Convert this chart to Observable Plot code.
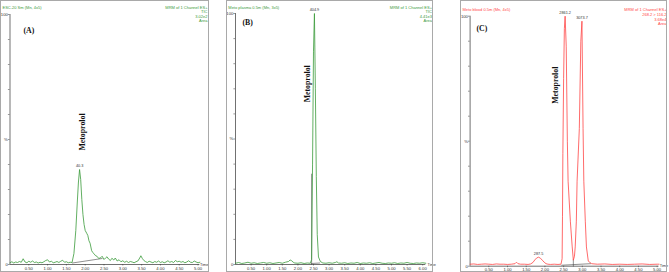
<!DOCTYPE html>
<html><head><meta charset="utf-8">
<script src="https://cdn.jsdelivr.net/npm/d3@7"></script>
<script src="https://cdn.jsdelivr.net/npm/@observablehq/plot@0.6"></script>
<style>
body{margin:0;background:#fff;}
#wrap{position:relative;width:669px;height:272px;overflow:hidden;background:#fff;}
.panel{position:absolute;top:0;height:272px;}
.border{position:absolute;top:0;height:272px;border:1px solid #a9a9a9;box-sizing:border-box;pointer-events:none;}
</style></head><body><div id="wrap"></div>
<script>
// ---------- DATA ----------
// Panel A: blank (ESC-20)
const aTime = [
 0.00,0.05,0.10,0.15,0.20,0.25,0.30,0.35,0.40,0.45,
 0.50,0.55,0.60,0.65,0.70,0.75,0.80,0.85,0.90,0.95,
 1.00,1.05,1.10,1.15,1.20,1.25,1.30,1.35,1.40,1.45,
 1.50,1.55,1.60,1.65,1.70,1.75,1.79,1.82,1.85,1.88,
 1.91,1.94,1.97,2.00,2.04,2.07,2.10,2.13,2.17,2.20,
 2.23,2.27,2.32,2.36,2.41,2.45,2.50,2.54,2.58,2.62,
 2.67,2.71,2.76,2.80,2.85,2.90,2.95,3.00,3.05,3.10,
 3.15,3.20,3.25,3.30,3.35,3.40,3.45,3.48,3.52,3.56,
 3.60,3.65,3.70,3.75,3.80,3.85,3.90,3.95,4.00,4.05,
 4.10,4.15,4.20,4.25,4.30,4.35,4.40,4.45,4.50,4.55,
 4.60,4.65,4.70,4.75,4.80,4.85,4.90,4.95,5.00,5.05];
const aInt = [
 0.7,1.1,0.6,1.0,0.8,1.2,0.9,2.3,1.0,0.7,
 1.3,0.9,1.4,0.8,1.0,0.6,0.9,0.7,1.1,1.6,
 1.9,1.0,1.3,0.7,0.9,1.2,0.8,1.3,1.7,0.9,
 1.1,0.7,0.9,0.8,4.4,13.6,25,33,38,34,
 26,20,16,13.6,12.5,11.6,9.5,8.5,5.6,4.8,
 4.4,3.6,3.2,2.4,2.7,3.3,2.0,2.6,3.1,2.2,
 1.6,2.5,1.8,2.6,1.4,1.9,1.1,1.5,0.9,1.3,
 0.8,1.2,1.0,0.7,1.1,1.4,2.6,3.5,2.4,1.6,
 1.2,0.8,1.3,1.0,0.7,1.2,0.9,1.4,0.8,1.1,
 0.7,1.0,1.5,0.9,1.2,0.8,1.6,1.1,1.3,0.9,
 1.2,0.7,1.0,1.5,0.9,0.8,1.4,1.0,0.7,0.9];
const aBaseTime = [1.66, 2.45];
const aBaseInt = [0.6, 2.4];
const aPeakTime = [1.85];
const aPeakInt = [38];
const aPeakLabel = ["40.3"];

// Panel B: plasma
const bTime = [
 0.00,0.10,0.20,0.30,0.40,0.50,0.60,0.70,0.80,0.90,
 1.00,1.10,1.20,1.30,1.40,1.50,1.60,1.70,1.75,1.80,
 1.85,1.90,2.00,2.10,2.20,2.30,2.40,2.44,2.47,2.50,
 2.53,2.56,2.59,2.62,2.66,2.72,2.80,2.90,3.00,3.10,
 3.20,3.25,3.30,3.40,3.50,3.60,3.70,3.80,3.90,4.00,
 4.10,4.20,4.30,4.40,4.50,4.60,4.70,4.80,4.90,5.00,
 5.10,5.20,5.30,5.40,5.50,5.60,5.70,5.80,5.90,6.00,
 6.10];
const bInt = [
 0.5,0.8,0.4,0.6,0.9,0.5,0.7,0.4,0.6,0.8,
 0.5,0.7,0.4,0.6,0.8,0.5,0.9,1.2,1.8,1.5,
 0.9,0.6,0.5,0.7,0.4,0.6,0.5,2,40,85,
 100,70,35,12,3,1.2,0.6,0.5,0.7,0.5,
 0.8,1.1,0.6,0.5,0.7,0.4,0.6,0.5,0.8,0.4,
 0.6,0.5,0.7,0.4,0.6,0.8,0.5,0.4,0.6,0.5,
 0.7,0.4,0.6,0.5,0.8,0.5,0.4,0.6,0.5,0.7,
 0.5];
const bDropTime = [2.44, 2.44];
const bDropInt = [0, 36];
const bBaseTime = [2.44, 2.70];
const bBaseInt = [0.4, 0.6];
const bPeakTime = [2.53];
const bPeakInt = [100];
const bPeakLabel = ["404.9"];

// Panel C: blood
const cTime = [
 0.00,0.10,0.20,0.30,0.40,0.50,0.60,0.70,0.80,0.90,
 1.00,1.10,1.20,1.24,1.28,1.35,1.45,1.55,1.62,1.68,
 1.73,1.78,1.83,1.88,1.93,1.98,2.03,2.08,2.15,2.25,
 2.35,2.43,2.46,2.47,2.48,2.50,2.52,2.54,2.57,2.60,
 2.62,2.68,2.73,2.76,2.79,2.81,2.84,2.86,2.92,2.96,
 2.99,3.02,3.04,3.08,3.11,3.16,3.25,3.40,3.60,3.80,
 4.00,4.20,4.40,4.60,4.80,5.00,5.05];
const cInt = [
 0.8,0.9,0.7,0.8,0.9,0.8,0.7,0.9,0.8,0.8,
 0.7,0.8,1.0,1.6,1.0,0.8,0.8,0.7,0.9,1.5,
 2.5,3.3,3.6,3.2,2.4,1.6,1.0,0.8,0.7,0.8,
 0.7,0.8,3,20,45,75,95,100,88,50,
 34,18,7.7,2.4,4,7.7,18,34,55,90,
 98,55,34,18,7.7,2,1,0.8,0.9,0.7,
 0.8,0.7,0.8,0.9,0.7,0.8,0.8];
const cDropTime = [2.76, 2.76];
const cDropInt = [0, 2.6];
const cBaseTime = [2.45, 3.22];
const cBaseInt = [0.4, 1.0];
const cPeakTime = [2.54, 2.99, 1.83];
const cPeakInt = [100, 98, 3.6];
const cPeakLabel = ["2861.2", "3073.7", "287.5"];

const xTicksA = [0.5,1,1.5,2,2.5,3,3.5,4,4.5,5];
const xTicksB = [0.5,1,1.5,2,2.5,3,3.5,4,4.5,5,5.5,6];
const xTicksC = [0.5,1,1.5,2,2.5,3,3.5,4,4.5,5];
const yTicks = [0,10,20,30,40,50,60,70,80,90,100];

const headLeft = ["ESC-20 Sm (Mn, 4x5)", "Meto plasma 0.5m (Mn, 3x5)", "Meto blood 0.5m (Mn, 4x5)"];
const headRight = [
 ["MRM of 1 Channel ES+", "TIC", "3.02e2", "Area"],
 ["MRM of 1 Channel ES+", "TIC", "4.41e3", "Area"],
 ["MRM of 1 Channel ES+", "268.2 > 116.2", "3.68e4", "Area"]];
const panelLetters = ["(A)", "(B)", "(C)"];
const compound = "Metoprolol";

// ---------- DRAW ----------
const GREEN = "#3a9a3a", RED = "#ff4545", AX = "#333";
const sans = "'Liberation Sans', Arial, sans-serif";
const serif = "'Liberation Serif', 'Times New Roman', serif";

const toRows = (ts, vs) => ts.map((t, i) => ({t, v: vs[i]}));

const cfgs = [
 {left:0, width:209, ml:9.5, mr:9.6, mt:14, mb:8, xMax:5.05, ticks:xTicksA, color:GREEN,
  trace:toRows(aTime,aInt), extra:[toRows(aBaseTime,aBaseInt)],
  peaks:{t:aPeakTime, v:aPeakInt, s:aPeakLabel},
  headL:{x:2, y:6.8}, headR:{x:207, ys:[6.8,11.4,15.9,20.3]}, letter:{x:23, y:30},
  comp:{t:1.94, v:53}, time:{x:199.5, y:263.9}, idx:0},
 {left:226, width:207, ml:9, mr:7.7, mt:13, mb:8, xMax:6.1, ticks:xTicksB, color:GREEN,
  trace:toRows(bTime,bInt), extra:[toRows(bDropTime,bDropInt), toRows(bBaseTime,bBaseInt)],
  peaks:{t:bPeakTime, v:bPeakInt, s:bPeakLabel},
  headL:{x:1.8, y:6.8}, headR:{x:205.5, ys:[6.8,11.6,16,20.1]}, letter:{x:16, y:21.7},
  comp:{t:2.31, v:72}, time:{x:201, y:264.1}, idx:1},
 {left:460, width:207, ml:9.6, mr:8.5, mt:15.7, mb:6.3, xMax:5.05, ticks:xTicksC, color:RED,
  trace:toRows(cTime,cInt), extra:[toRows(cDropTime,cDropInt), toRows(cBaseTime,cBaseInt)],
  peaks:{t:cPeakTime, v:cPeakInt, s:cPeakLabel},
  headL:{x:2, y:9.6}, headR:{x:206, ys:[9.4,14.2,18.8,22.9]}, letter:{x:16, y:28.3},
  comp:{t:2.29, v:72.4}, time:{x:199.2, y:265.3}, idx:2}
];

const wrap = document.getElementById("wrap");

for (const c of cfgs) {
  const lab = (text, x, y, o) => Plot.text([text], {text: d => d, frameAnchor: "top-left",
      dx: x - c.ml, dy: y - c.mt, lineAnchor: "middle", ...o});
  const colTxt = {fill: c.color, fontSize: 4, fontFamily: sans};
  const marks = [
    Plot.ruleY([0], {stroke: AX, strokeWidth: 0.7}),
    Plot.ruleX([0], {y1: 0, y2: 100, stroke: AX, strokeWidth: 0.7}),
    Plot.axisX({ticks: c.ticks, tickSize: 1.5, tickPadding: 0.8, fontSize: 4.2,
      tickFormat: d3.format(".2f"), label: null, stroke: AX, strokeWidth: 0.5, fill: AX}),
    Plot.axisY({ticks: yTicks, tickSize: 1.6, tickPadding: 0.6, fontSize: 4.2, label: null,
      tickFormat: d => d === 100 ? "100" : d === 50 ? "%" : d === 0 ? "0" : "",
      stroke: AX, strokeWidth: 0.5, fill: AX}),
    ...c.extra.map(e => Plot.line(e, {x: "t", y: "v", stroke: "#444", strokeWidth: 0.6})),
    Plot.line(c.trace, {x: "t", y: "v", stroke: c.color, strokeWidth: 0.8}),
    Plot.text(c.peaks.s, {x: (d, i) => c.peaks.t[i], y: (d, i) => c.peaks.v[i], text: d => d,
      dy: -2.6, lineAnchor: "bottom", fontSize: 3.8, fill: "#333", fontFamily: sans}),
    Plot.text([compound], {x: () => c.comp.t, y: () => c.comp.v, text: d => d, rotate: -90,
      fontSize: 7.8, fontWeight: "bold", fontFamily: serif, fill: "#111", textAnchor: "middle", lineAnchor: "middle"}),
    lab(headLeft[c.idx], c.headL.x, c.headL.y, {textAnchor: "start", ...colTxt}),
    ...headRight[c.idx].map((s, k) => lab(s, c.headR.x, c.headR.ys[k], {textAnchor: "end", ...colTxt})),
    lab(panelLetters[c.idx], c.letter.x, c.letter.y, {textAnchor: "start", fontSize: 7.8,
      fontWeight: "bold", fontFamily: serif, fill: "#111"}),
    lab("Time", c.time.x, c.time.y, {textAnchor: "start", fontSize: 3.8, fill: AX, fontFamily: sans})
  ];
  const svg = Plot.plot({
    width: c.width, height: 272,
    marginLeft: c.ml, marginRight: c.mr, marginTop: c.mt, marginBottom: c.mb,
    x: {domain: [0, c.xMax]}, y: {domain: [0, 100]},
    style: {background: "transparent", overflow: "visible", fontFamily: sans, color: AX},
    marks
  });
  const div = document.createElement("div");
  div.className = "panel";
  div.style.left = c.left + "px";
  div.style.width = c.width + "px";
  div.appendChild(svg);
  wrap.appendChild(div);
  const b = document.createElement("div");
  b.className = "border";
  b.style.left = c.left + "px";
  b.style.width = c.width + "px";
  wrap.appendChild(b);
}
</script>
</body></html>
